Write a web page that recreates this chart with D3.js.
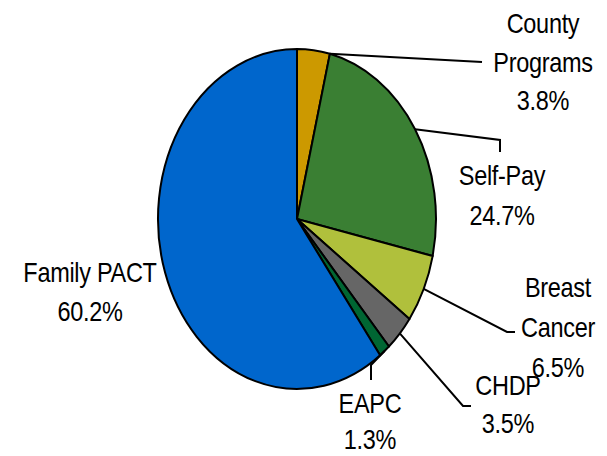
<!DOCTYPE html>
<html>
<head>
<meta charset="utf-8">
<script src="https://cdn.jsdelivr.net/npm/d3@7"></script>
<style>
  html, body { margin: 0; padding: 0; background: #fff; }
  svg { display: block; }
  text { font-family: "Liberation Sans", Arial, sans-serif; fill: #000; }
</style>
</head>
<body>
<svg id="chart" width="607" height="456"></svg>
<script>
// ---- data ----
const categories = ["County Programs", "Self-Pay", "Breast Cancer", "CHDP", "EAPC", "Family PACT"];
const values = [3.8, 24.7, 6.5, 3.5, 1.3, 60.2];
const labelLines = [["County", "Programs"], ["Self-Pay"], ["Breast", "Cancer"], ["CHDP"], ["EAPC"], ["Family PACT"]];
const percentLabels = ["3.8%", "24.7%", "6.5%", "3.5%", "1.3%", "60.2%"];
const colors = ["#CC9900", "#3A7F33", "#B0C03C", "#666666", "#006633", "#0066CC"];

// ---- layout ----
const W = 607, H = 456;
const cx = 297, cy = 219, r = 139, ky = 1.223;
const fontSize = 23.5, textKy = 1.2;
// label layout: text center x, first baseline y, line height, leader line points after anchor, anchor position inside slice (0..1)
const labelLayout = [
  { x: 543, y: 33,  lh: 38.5, anchorT: 1.0, pts: [[482, 62]] },
  { x: 502, y: 185, lh: 40,   anchorT: 0.5, pts: [[500, 140], [500, 152]] },
  { x: 558, y: 297, lh: 40,   anchorT: 0.5, pts: [[507, 332], [515, 332]] },
  { x: 508, y: 395, lh: 38,   anchorT: 0.5, pts: [[463, 406], [471, 406]] },
  { x: 370, y: 413, lh: 36,   anchorT: 0.5, pts: [[371, 365], [371, 380]] },
  { x: 90,  y: 282, lh: 38.5, anchorT: 0.5, pts: null }
];

const svg = d3.select("#chart");

const pie = d3.pie().sort(null).value(d => d)(values);
const arc = d3.arc().innerRadius(0).outerRadius(r);

const g = svg.append("g").attr("transform", `translate(${cx},${cy}) scale(1,${ky})`);
g.selectAll("path").data(pie).join("path")
  .attr("d", arc)
  .attr("fill", (d, i) => colors[i])
  .attr("stroke", "#000")
  .attr("stroke-width", 2)
  .attr("stroke-linejoin", "round")
  .attr("vector-effect", "non-scaling-stroke");

// leader lines
const line = d3.line();
pie.forEach((d, i) => {
  const L = labelLayout[i];
  if (!L.pts) return;
  const a = d.startAngle + (d.endAngle - d.startAngle) * L.anchorT;
  const start = [cx + r * Math.sin(a), cy - r * ky * Math.cos(a)];
  svg.append("path")
    .attr("d", line([start, ...L.pts]))
    .attr("fill", "none")
    .attr("stroke", "#000")
    .attr("stroke-width", 2);
});

// labels
pie.forEach((d, i) => {
  const L = labelLayout[i];
  const lines = [...labelLines[i], percentLabels[i]];
  lines.forEach((t, j) => {
    svg.append("text")
      .attr("transform", `translate(${L.x},${L.y + j * L.lh}) scale(1,${textKy})`)
      .attr("text-anchor", "middle")
      .attr("font-size", fontSize)
      .attr("letter-spacing", "-0.3px")
      .text(t);
  });
});
</script>
</body>
</html>
